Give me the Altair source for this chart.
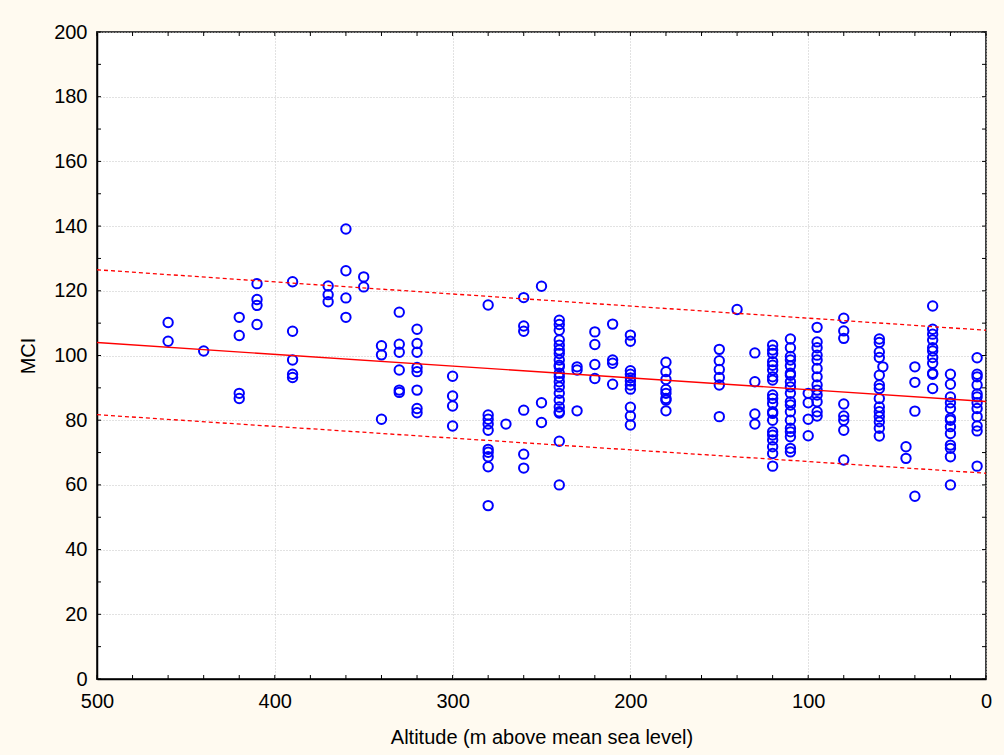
import altair as alt
import pandas as pd

# Altitude groups (m above mean sea level) and MCI values
group_alt = [460, 440, 420, 410, 390, 370, 360, 350, 340, 330, 320, 300, 280, 270,
             260, 250, 240, 230, 220, 210, 200, 180, 150, 140, 130, 120, 110, 100,
             95, 80, 60, 58, 45, 40, 30, 20, 5]
group_mci = [
    [110.2, 104.4],
    [101.4],
    [111.8, 106.2, 88.3, 86.7],
    [122.2, 117.3, 115.5, 109.6],
    [122.8, 107.5, 98.6, 94.2, 93.2],
    [121.5, 118.8, 116.6],
    [139.1, 126.2, 117.8, 111.8],
    [124.3, 121.2],
    [103.0, 100.2, 80.3],
    [113.4, 103.5, 101.0, 95.5, 89.3, 88.6],
    [108.1, 103.7, 101.0, 96.3, 95.0, 89.3, 83.6, 82.3],
    [93.6, 87.5, 84.4, 78.2],
    [115.6, 81.6, 80.3, 78.8, 76.9, 71.0, 70.1, 68.7, 65.6, 53.6],
    [78.8],
    [117.9, 109.1, 107.5, 83.1, 69.5, 65.2],
    [121.4, 85.4, 79.3],
    [110.9, 109.6, 107.8, 104.8, 103.2, 101.7, 100.6, 98.6, 97.0, 96.5, 94.5,
     93.4, 91.9, 90.3, 88.3, 86.2, 84.1, 82.6, 82.2, 73.5, 60.0],
    [96.5, 95.5, 82.9],
    [107.3, 103.4, 97.2, 92.9],
    [109.7, 98.6, 97.6, 91.1],
    [106.3, 104.4, 95.3, 94.2, 93.1, 92.1, 90.9, 89.6, 84.0, 81.3, 78.5],
    [97.9, 95.0, 92.6, 89.5, 88.3, 86.7, 86.2, 82.9],
    [101.9, 98.4, 95.7, 93.2, 90.9, 81.1],
    [114.2],
    [100.8, 91.9, 81.9, 78.8],
    [103.2, 101.7, 100.6, 98.1, 97.0, 95.5, 93.4, 92.4, 87.8, 86.7, 85.2, 82.6,
     82.1, 80.0, 76.4, 75.4, 73.9, 71.8, 69.7, 65.8],
    [105.1, 102.4, 99.7, 98.6, 96.8, 94.5, 93.9, 91.9, 90.3, 88.3, 85.7, 84.7,
     82.6, 80.0, 77.5, 76.4, 74.9, 71.3, 70.2],
    [88.3, 85.4, 80.3, 75.2],
    [108.7, 104.2, 102.4, 100.1, 98.6, 96.0, 93.4, 90.9, 89.3, 87.8, 85.7, 82.6, 81.3],
    [111.5, 107.6, 105.3, 85.0, 81.3, 80.0, 76.9, 67.7],
    [105.1, 104.0, 101.1, 99.4, 93.9, 90.9, 89.8, 86.7, 84.1, 82.6, 81.1, 79.5, 77.5, 75.1],
    [96.5],
    [71.8, 68.2],
    [96.5, 91.7, 82.8, 56.5],
    [115.3, 108.1, 106.6, 104.8, 102.4, 101.4, 99.4, 97.6, 94.5, 94.2, 89.8],
    [94.2, 91.1, 87.2, 85.4, 83.6, 80.6, 80.0, 78.0, 75.9, 72.3, 71.3, 68.7, 60.0],
    [99.3, 94.2, 93.4, 90.9, 88.1, 87.2, 85.4, 83.6, 81.1, 78.2, 76.7, 65.8],
]

# Regression line and prediction band (endpoints)
fit_alt = [500, 0]
fit_mid = [104.0, 85.8]
fit_upper = [126.5, 107.8]
fit_lower = [81.7, 63.6]

# Axis tick values
x_labels = [0, 100, 200, 300, 400, 500]
y_labels = list(range(0, 201, 20))
x_ticks = list(range(0, 501, 20))
y_ticks = list(range(0, 201, 10))

rows = [{"altitude": a, "mci": v} for a, vals in zip(group_alt, group_mci) for v in vals]
points_df = pd.DataFrame(rows)
fit_df = pd.DataFrame({"altitude": fit_alt, "mid": fit_mid, "upper": fit_upper, "lower": fit_lower})
xt_df = pd.DataFrame({"altitude": x_ticks})
yt_df = pd.DataFrame({"mci": y_ticks})

W, H = 889, 647
FONT = "Liberation Sans"

xscale = alt.Scale(domain=[0, 500], reverse=True, nice=False, zero=False)
yscale = alt.Scale(domain=[0, 200], nice=False)

xaxis = alt.Axis(values=x_labels, title="Altitude (m above mean sea level)",
                 grid=True, ticks=False, labelPadding=12, titlePadding=16,
                 labelFlush=False, labelOverlap=False)
yaxis = alt.Axis(values=y_labels, title="MCI", grid=True, ticks=False,
                 labelPadding=10, titlePadding=15, labelFlush=False, labelOverlap=False)


def X(field):
    return alt.X(field + ":Q", scale=xscale, axis=xaxis)


def Y(field):
    return alt.Y(field + ":Q", scale=yscale, axis=yaxis)


points = alt.Chart(points_df).mark_point(
    shape="circle", filled=False, color="#0000FF", size=88, strokeWidth=2.0, opacity=1
).encode(x=X("altitude"), y=Y("mci"))

mid = alt.Chart(fit_df).mark_line(color="#FF0000", strokeWidth=1.4).encode(
    x=X("altitude"), y=Y("mid"))
upper = alt.Chart(fit_df).mark_line(color="#FF0000", strokeWidth=1.3, strokeDash=[4, 3]).encode(
    x=X("altitude"), y=Y("upper"))
lower = alt.Chart(fit_df).mark_line(color="#FF0000", strokeWidth=1.3, strokeDash=[4, 3]).encode(
    x=X("altitude"), y=Y("lower"))

TL = 4
tick_color = "#000000"
bottom_ticks = alt.Chart(xt_df).mark_rule(color=tick_color, strokeWidth=1).encode(
    x=X("altitude"), y=alt.value(H - TL), y2=alt.value(H))
top_ticks = alt.Chart(xt_df).mark_rule(color=tick_color, strokeWidth=1).encode(
    x=X("altitude"), y=alt.value(0), y2=alt.value(TL))
left_ticks = alt.Chart(yt_df).mark_rule(color=tick_color, strokeWidth=1).encode(
    y=Y("mci"), x=alt.value(0), x2=alt.value(TL))
right_ticks = alt.Chart(yt_df).mark_rule(color=tick_color, strokeWidth=1).encode(
    y=Y("mci"), x=alt.value(W - TL), x2=alt.value(W))

chart = alt.layer(
    points, mid, upper, lower, bottom_ticks, top_ticks, left_ticks, right_ticks
).properties(
    width=W, height=H,
    autosize=alt.AutoSizeParams(type="none"),
    padding={"left": 97, "top": 32, "right": 18, "bottom": 76},
    background="#FFFAF0",
).configure_view(
    fill="white", stroke="#404040", strokeWidth=2
).configure_axis(
    labelFont=FONT, titleFont=FONT, labelFontSize=20, titleFontSize=20,
    titleFontWeight="normal", labelColor="black", titleColor="black",
    domainColor="black", domainWidth=1.5,
    gridColor="#C4C4C4", gridDash=[1, 2], gridWidth=1,
)

chart.save("out.html", embed_options={"renderer": "svg", "actions": False})
